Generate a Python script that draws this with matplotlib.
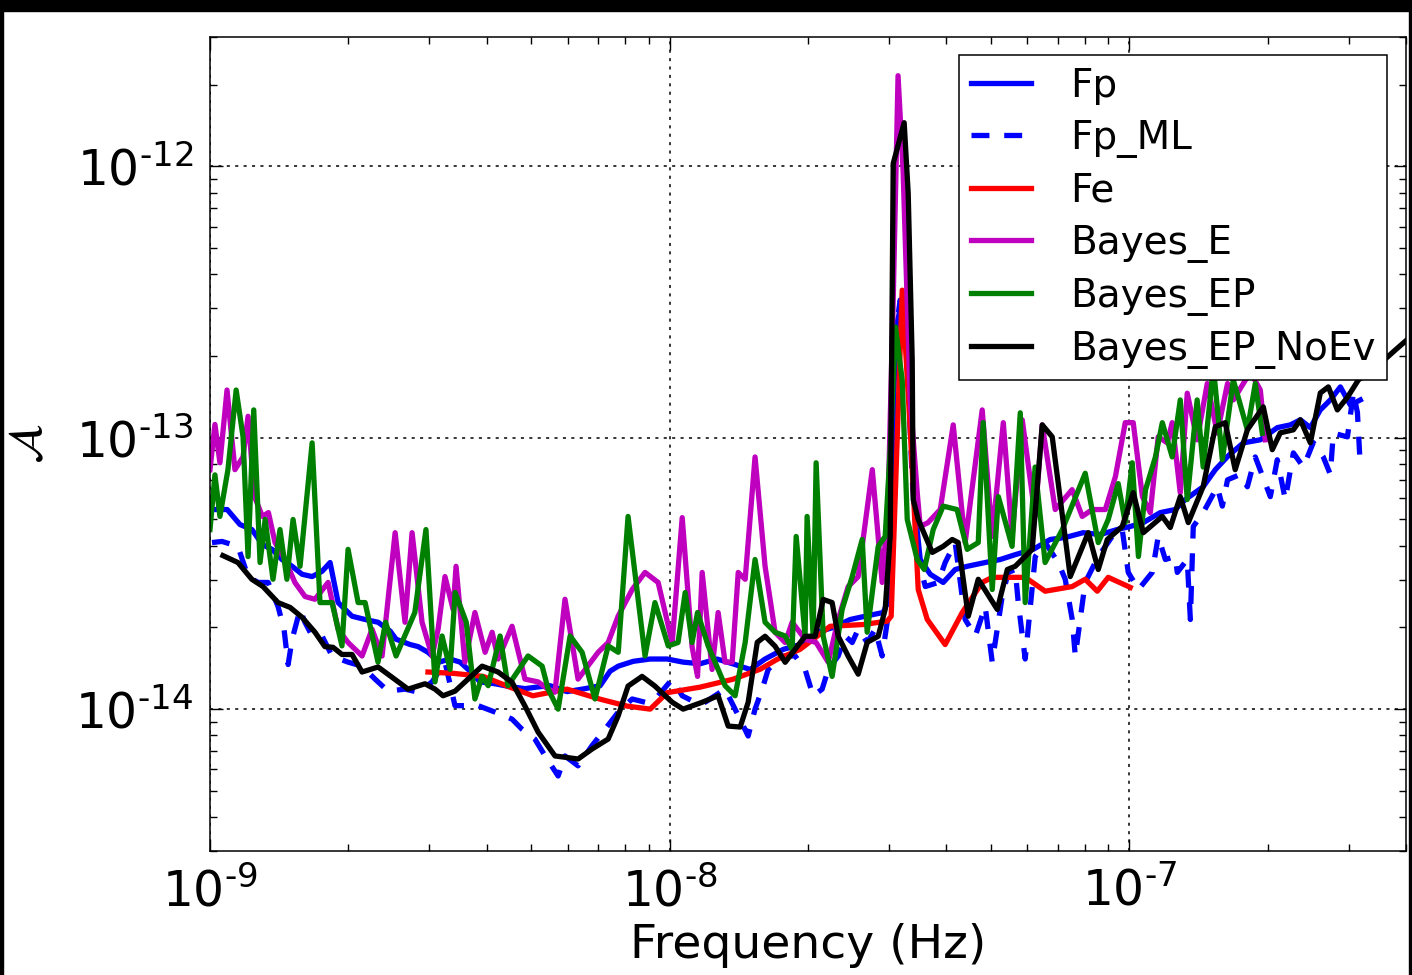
import numpy as np
import matplotlib
matplotlib.use('Agg')
import matplotlib.pyplot as plt
from matplotlib.patches import Rectangle
from matplotlib.ticker import LogLocator, FuncFormatter

# frequencies in nHz, amplitudes in units of 1e-14
fp_f = [1.01, 1.09, 1.162, 1.234, 1.30, 1.365, 1.434, 1.509, 1.586, 1.668, 1.753, 1.825, 1.90, 2.037,
        2.175, 2.321, 2.465, 2.54, 2.725, 2.837, 2.98, 3.15, 3.329, 3.50, 3.68, 3.869, 4.17, 4.496,
        4.85, 5.226, 5.494, 5.98, 6.55, 7.059, 7.42, 7.73, 8.33, 9.07, 9.88, 10.70, 11.65, 12.68,
        13.88, 14.97, 16.13, 17.66, 19.23, 20.93, 22.7, 24.71, 27.31, 29.15, 30.0, 31.0, 32.06,
        33.04, 34.0, 35.09, 36.9, 39.37, 41.8, 44.4, 48.6, 52.4, 56.5, 61.8, 67.31, 72.55, 79.4,
        86.47, 94.1, 100.5, 107.3, 116.8, 125.9, 132.4, 144.8, 153.9, 164.4, 177.1, 192.8, 209.9,
        224.1, 235.6, 247.7, 260.4, 273.8, 287.9, 302.7, 318.2]
fp_a = [5.44, 5.44, 4.79, 4.59, 4.04, 3.88, 3.56, 3.36, 3.14, 3.08, 3.22, 3.47, 2.47, 2.20,
        2.14, 2.09, 1.94, 1.81, 1.73, 1.70, 1.62, 1.49, 1.53, 1.49, 1.38, 1.26, 1.24, 1.21,
        1.19, 1.21, 1.22, 1.16, 1.19, 1.22, 1.38, 1.44, 1.50, 1.53, 1.53, 1.49, 1.47, 1.53,
        1.46, 1.40, 1.53, 1.66, 1.73, 1.92, 2.0, 2.14, 2.22, 2.27, 2.54, 24.9, 32.2,
        21.1, 5.92, 3.56, 3.14, 2.93, 3.27, 3.36, 3.47, 3.56, 3.71, 3.88, 4.22, 4.29, 4.47,
        4.40, 4.59, 4.71, 4.87, 5.30, 5.44, 5.92, 6.6, 7.63, 8.6, 9.58, 9.83, 10.9,
        11.16, 11.65, 10.9, 12.67, 13.79, 15.4, 13.2, 13.79]

fpml_f = [1.01, 1.062, 1.150, 1.210, 1.272, 1.338, 1.406, 1.449, 1.479, 1.509, 1.570, 1.609, 1.668,
          1.753, 1.843, 1.997, 2.142, 2.286, 2.44, 2.656, 2.837, 3.042, 3.245, 3.412, 3.831, 4.17,
          4.54, 4.77, 5.09, 5.36, 5.72, 5.92, 6.32, 6.78, 7.24, 7.73, 8.29, 8.84, 9.44, 10.13,
          10.65, 11.36, 11.94, 13.2, 13.88, 14.82, 15.34, 15.90, 16.38, 17.57, 18.75, 19.71, 20.52,
          21.47, 22.13, 23.27, 24.09, 24.96, 25.72, 26.91, 27.99, 29.0, 29.87, 30.65, 31.74, 32.7,
          33.71, 34.74, 36.0, 38.40, 39.76, 41.80, 43.95, 46.24, 48.59, 50.33, 52.92, 54.54, 56.47,
          57.34, 59.37, 62.43, 65.62, 70.06, 72.55, 75.14, 76.3, 80.18, 85.61, 91.82, 96.53, 99.5,
          104.7, 112.2, 115.6, 119.8, 125.9, 127.2, 133.7, 135.8, 137.8, 144.8, 155.4, 159.4, 163.6,
          174.4, 180.7, 188.0, 202.7, 209.9, 218.5, 227.5, 239.2, 251.4, 264.3, 273.8, 277.9, 298.3,
          307.3, 313.6, 318.2]
fpml_a = [4.11, 4.15, 3.98, 3.08, 2.93, 2.93, 2.39, 1.97, 1.46, 1.81, 2.33, 2.09, 1.86,
          1.86, 1.57, 1.49, 1.44, 1.29, 1.165, 1.185, 1.155, 1.26, 1.49, 1.03, 1.03, 0.975,
          0.919, 0.844, 0.776, 0.672, 0.567, 0.672, 0.618, 0.734, 0.844, 0.975, 1.09, 1.06, 1.12, 1.29,
          1.12, 1.06, 1.06, 1.185, 1.0, 0.796, 1.0, 1.185, 1.40, 1.57, 1.57, 1.40, 1.12,
          1.185, 1.40, 1.57, 1.86, 1.76, 1.97, 1.76, 1.97, 1.57, 2.20, 21.1, 32.2, 24.9,
          7.0, 3.56, 2.83, 2.93, 3.47, 4.11, 2.14, 1.86, 2.39, 1.49, 2.61, 3.19, 3.27,
          2.47, 1.53, 3.65, 4.11, 3.47, 3.01, 2.14, 1.57, 2.93, 3.65, 4.33, 4.59, 3.19,
          2.76, 3.19, 4.33, 3.56, 3.65, 3.19, 3.56, 2.14, 4.71, 5.30, 6.6, 5.6, 7.0,
          7.33, 6.6, 8.5, 6.07, 8.3, 5.92, 8.8, 7.8, 9.6, 8.5, 7.33, 10.4, 10.08,
          14.6, 12.4, 7.8]

fe_f = [2.98, 3.38, 3.93, 4.43, 5.04, 5.98, 7.06, 8.08, 9.07, 9.88, 11.65, 13.74, 15.74, 17.15,
        19.23, 22.35, 26.37, 29.75, 30.34, 32.06, 33.38, 34.74, 36.35, 39.76, 43.31, 47.87, 50.33,
        59.37, 65.62, 75.14, 80.18, 85.2, 90.0, 100.5]
fe_a = [1.37, 1.355, 1.32, 1.216, 1.12, 1.185, 1.088, 1.026, 1.0, 1.15, 1.205, 1.289, 1.403, 1.527,
        1.662, 2.02, 2.05, 2.11, 2.20, 35.0, 10.7, 2.76, 2.14, 1.73, 2.27, 2.93, 3.06,
        3.06, 2.72, 2.83, 3.01, 2.72, 3.06, 2.81]

be_f = [1.0, 1.025, 1.051, 1.089, 1.133, 1.18, 1.21, 1.25, 1.30, 1.34, 1.385, 1.456, 1.53, 1.61,
        1.692, 1.807, 1.90, 1.997, 2.142, 2.252, 2.368, 2.528, 2.656, 2.752, 2.893, 3.042, 3.135,
        3.245, 3.38, 3.43, 3.585, 3.77, 3.968, 4.11, 4.235, 4.541, 4.845, 5.174, 5.44, 5.63, 5.92,
        6.32, 6.99, 7.35, 7.725, 8.29, 8.84, 9.44, 10.13, 10.65, 11.19, 11.5, 11.77, 12.37, 12.75,
        13.2, 13.68, 14.1, 14.6, 15.34, 16.13, 16.96, 17.84, 18.47, 19.71, 20.83, 22.13, 23.27,
        24.46, 25.72, 27.6, 29.0, 29.87, 30.65, 31.4, 32.2, 33.38, 34.57, 35.09, 36.5, 38.79,
        41.4, 43.95, 47.87, 50.33, 53.2, 55.6, 58.5, 62.4, 64.66, 69.0, 75.1, 79.0, 83.1, 88.7,
        93.3, 98.0, 102.0, 106.8, 111.1, 115.6, 121.0, 124.0, 129.1, 133.7, 140.5, 147.8, 155.4,
        163.6, 168.4, 177.1, 183.4, 192.8, 197.6]
be_a = [7.63, 11.2, 8.09, 15.0, 7.63, 8.5, 12.0, 6.07, 5.13, 5.3, 4.11, 3.56, 2.93, 2.60,
        2.54, 2.93, 1.97, 1.76, 1.57, 1.97, 1.57, 4.47, 2.09, 4.47, 2.09, 1.57, 1.97,
        3.08, 2.33, 3.36, 1.49, 2.27, 1.62, 1.92, 1.53, 2.02, 1.29, 1.26, 1.185, 1.155, 2.54,
        1.29, 1.62, 1.76, 2.20, 2.76, 3.19, 2.93, 1.76, 5.08, 1.70, 1.32, 3.19, 1.40, 2.27,
        1.49, 1.49, 3.19, 3.01, 8.5, 3.36, 1.92, 1.76, 2.09, 1.81, 1.76, 1.49, 2.14,
        2.83, 3.08, 7.63, 2.93, 5.7, 32.2, 216, 97, 13.79, 6.27, 4.71, 4.87, 5.44,
        11.16, 4.11, 12.67, 4.33, 11.37, 4.33, 11.65, 5.13, 11.16, 5.44, 6.44, 5.13, 5.44, 5.44,
        7.2, 11.37, 11.37, 6.07, 5.3, 10.08, 9.58, 11.37, 6.27, 14.6, 9.83, 15.85, 10.4,
        15.85, 13.79, 15.85, 17.5, 15.0, 9.83]

bep_f = [1.0, 1.025, 1.051, 1.094, 1.14, 1.18, 1.21, 1.245, 1.285, 1.318, 1.371, 1.42, 1.47, 1.516,
         1.57, 1.668, 1.735, 1.843, 1.937, 1.997, 2.10, 2.175, 2.32, 2.41, 2.54, 2.79, 2.95, 3.087,
         3.198, 3.329, 3.415, 3.61, 3.77, 3.908, 4.03, 4.277, 4.45, 4.92, 5.28, 5.44, 5.72, 6.073,
         6.45, 6.88, 7.35, 7.73, 8.12, 8.84, 9.29, 9.93, 10.43, 10.81, 11.19, 11.5, 12.13, 13.2,
         13.88, 14.6, 15.34, 16.13, 16.96, 17.84, 18.47, 18.85, 19.71, 19.91, 20.52, 20.83, 21.58,
         22.57, 23.73, 24.96, 26.24, 26.9, 28.43, 29.44, 30.19, 31.0, 32.06, 32.88, 34.57, 35.8,
         37.45, 39.37, 42.2, 44.4, 46.93, 48.1, 50.33, 51.9, 55.6, 57.92, 59.37, 62.4, 65.6, 71.5,
         80.2, 85.6, 90.0, 94.6, 98.0, 101.5, 104.7, 108.5, 114.0, 118.0, 124.0, 129.1, 133.7,
         140.5, 144.8, 152.4, 159.4, 168.4, 180.7, 188.0, 194.7]
bep_a = [4.59, 7.3, 5.13, 7.63, 15.0, 10.08, 3.65, 12.67, 3.47, 5.0, 3.01, 4.59, 3.01, 5.0,
         3.36, 9.58, 2.47, 2.47, 1.71, 3.88, 2.47, 2.47, 1.49, 2.09, 1.57, 2.27, 4.59, 1.26,
         1.86, 1.40, 2.69, 2.09, 1.09, 1.32, 1.22, 1.86, 1.22, 1.57, 1.44, 1.185, 1.0, 1.86,
         1.62, 1.09, 1.71, 1.62, 5.13, 1.57, 2.47, 1.71, 1.76, 2.69, 1.76, 2.27, 1.71, 1.22,
         1.12, 1.76, 3.56, 2.09, 1.92, 1.86, 1.66, 4.33, 1.86, 5.13, 1.86, 8.09, 1.86,
         1.32, 2.33, 3.08, 4.22, 1.92, 3.98, 4.33, 9.0, 25.6, 16.34, 5.0, 3.56, 3.27,
         4.59, 5.6, 5.44, 3.88, 4.11, 11.37, 2.76, 6.07, 3.98, 12.36, 2.47, 7.8, 3.47, 4.59,
         7.4, 4.11, 5.0, 6.78, 4.87, 8.09, 3.65, 6.44, 8.5, 11.37, 8.5, 13.79, 5.92,
         13.79, 7.8, 18.2, 8.3, 16.34, 10.7, 15.85, 10.4]

bnoev_f = [1.067, 1.150, 1.233, 1.304, 1.406, 1.494, 1.586, 1.692, 1.778, 1.852, 1.937, 2.037, 2.142,
           2.321, 2.490, 2.697, 2.936, 3.087, 3.214, 3.413, 3.908, 4.235, 4.541, 4.845, 5.174, 5.631,
           6.322, 6.781, 7.35, 7.725, 8.12, 8.71, 9.29, 10.13, 10.70, 11.77, 12.75, 13.41, 14.24,
           14.82, 15.51, 16.13, 16.96, 17.84, 18.75, 19.71, 20.73, 21.58, 22.57, 23.27, 24.46, 25.72,
           26.91, 28.43, 29.44, 30.19, 30.65, 32.38, 33.04, 33.71, 33.88, 34.74, 37.27, 39.37, 41.19,
           42.45, 44.64, 46.93, 51.62, 54.29, 56.47, 61.50, 64.66, 67.98, 74.40, 81.43, 85.61, 89.58,
           96.53, 102.0, 107.3, 118.0, 122.8, 129.1, 134.4, 144.8, 153.9, 161.7, 170.0, 180.7, 195.7,
           204.7, 213.1, 227.5, 235.6, 247.7, 260.4, 271.1, 283.6, 298.3, 315.1, 342.9, 379.1, 413.0]
bnoev_a = [3.68, 3.47, 3.01, 2.83, 2.47, 2.37, 2.18, 1.92, 1.70, 1.69, 1.59, 1.59, 1.37,
           1.43, 1.31, 1.185, 1.24, 1.185, 1.12, 1.165, 1.44, 1.37, 1.256, 1.026, 0.823, 0.672,
           0.655, 0.713, 0.776, 0.943, 1.216, 1.32, 1.216, 1.06, 1.0, 1.06, 1.12, 0.866, 0.859,
           1.06, 1.763, 1.856, 1.705, 1.488, 1.662, 1.856, 1.856, 2.537, 2.47, 1.856, 1.567, 1.345,
           1.763, 1.856, 2.331, 4.33, 102.6, 145, 79.6, 19.35, 5.92, 4.995, 3.78, 3.98, 4.22,
           4.11, 2.20, 3.01, 2.33, 3.27, 3.36, 3.88, 11.16, 10.08, 3.08, 4.47, 3.27, 4.22,
           4.71, 6.28, 4.47, 5.13, 4.67, 6.07, 4.87, 6.61, 10.98, 11.37, 7.63, 10.7, 13.0,
           9.04, 10.43, 10.7, 11.65, 9.58, 14.63, 15.4, 12.67, 14.1, 16.34, 18.08, 21.06, 23.9]

plt.rcParams['font.family'] = 'DejaVu Sans'
plt.rcParams['mathtext.fontset'] = 'dejavusans'

fig = plt.figure(figsize=(14.12, 9.75), dpi=100)
ax = fig.add_axes([210 / 1412, 124 / 975, 1196 / 1412, 814 / 975])

nz = 1e-9
sc = 1e-14
lw = 3.8
ax.plot(np.array(fp_f) * nz, np.array(fp_a) * sc, color='b', lw=lw, label='Fp')
ax.plot(np.array(fpml_f) * nz, np.array(fpml_a) * sc, color='b', lw=lw, ls=(0, (3.4, 2.8)),
        label='Fp_ML')
ax.plot(np.array(fe_f) * nz, np.array(fe_a) * sc, color='r', lw=lw, label='Fe')
ax.plot(np.array(be_f) * nz, np.array(be_a) * sc, color='m', lw=lw, label='Bayes_E')
ax.plot(np.array(bep_f) * nz, np.array(bep_a) * sc, color='g', lw=lw, label='Bayes_EP')
ax.plot(np.array(bnoev_f) * nz, np.array(bnoev_a) * sc, color='k', lw=lw, label='Bayes_EP_NoEv')

ax.set_xscale('log')
ax.set_yscale('log')
ax.set_xlim(1e-9, 4.0e-7)
ax.set_ylim(3.0e-15, 3.0e-12)

# short hyphen in the exponent, like the old-style labels
fmt = FuncFormatter(lambda v, p: '$10^{\u2010%d}$' % abs(int(round(np.log10(v)))))
ax.xaxis.set_major_formatter(fmt)
ax.yaxis.set_major_formatter(fmt)
ax.xaxis.set_major_locator(LogLocator(base=10))
ax.yaxis.set_major_locator(LogLocator(base=10))
ax.tick_params(which='both', direction='in', top=True, right=True, width=1.0)
ax.tick_params(which='major', length=9, labelsize=35, pad=12)
ax.tick_params(which='minor', length=5)
for s in ax.spines.values():
    s.set_linewidth(1.1)

ax.grid(True, which='major', color='k', ls=(0, (2, 3.5)), lw=1.1)

ax.set_xlabel('Frequency (Hz)', fontsize=34, labelpad=5)
ax.set_ylabel(r'$\mathcal{A}$', fontsize=34)
ax.yaxis.set_label_coords(-0.132, 0.5)

leg = ax.legend(loc='upper right', bbox_to_anchor=((1387 - 210) / 1196, (851 - 55) / 814),
                borderaxespad=0, fontsize=28, handlelength=1.55, handletextpad=1.0,
                labelspacing=0.36, borderpad=0.3, fancybox=False, framealpha=1.0)
leg.get_frame().set_edgecolor('k')
leg.get_frame().set_linewidth(1.1)

# black frame strips of the screenshot
fig.patches.append(Rectangle((0, 1 - 11 / 975), 1, 11 / 975, transform=fig.transFigure,
                             color='k', zorder=10))
fig.patches.append(Rectangle((0, 0), 3 / 1412, 1, transform=fig.transFigure, color='k', zorder=10))
fig.patches.append(Rectangle((1 - 3 / 1412, 0), 3 / 1412, 1, transform=fig.transFigure,
                             color='k', zorder=10))

fig.savefig('out.png', dpi=100)
